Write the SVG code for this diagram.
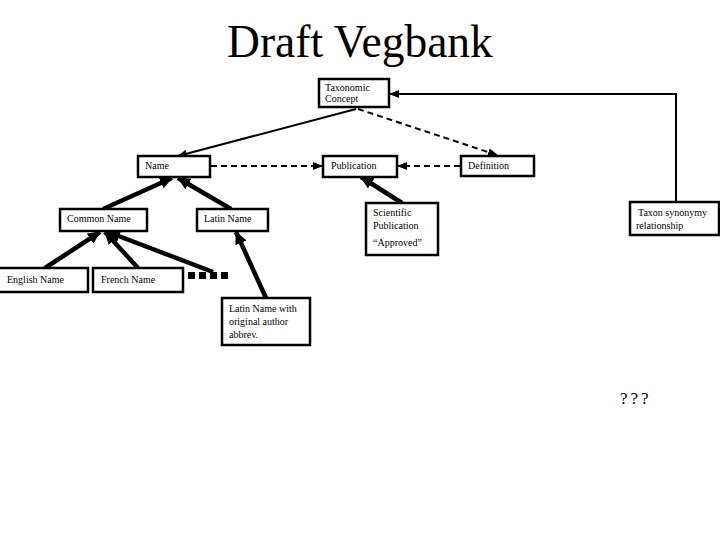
<svg xmlns="http://www.w3.org/2000/svg" width="720" height="540" viewBox="0 0 720 540">
<defs>
<style>
.box{fill:#fff;stroke:#000;stroke-width:2.5}
.t{font-family:"Liberation Serif","Times New Roman",serif;font-size:10px;fill:#000}
.thin{stroke:#000;stroke-width:2;fill:none}
.dash{stroke:#000;stroke-width:2;fill:none;stroke-dasharray:6,4}
.thick{stroke:#000;stroke-width:4.5;fill:none}
</style>
<marker id="ah" markerUnits="userSpaceOnUse" markerWidth="10" markerHeight="8" refX="9" refY="4" orient="auto">
<path d="M0,0 L10,4 L0,8 Z" fill="#000"/>
</marker>
<marker id="ahb" markerUnits="userSpaceOnUse" markerWidth="13" markerHeight="12" refX="12" refY="6" orient="auto">
<path d="M0,0 L13,6 L0,12 Z" fill="#000"/>
</marker>
</defs>
<rect width="720" height="540" fill="#fff"/>
<text x="360" y="57" text-anchor="middle" font-family="Liberation Serif,'Times New Roman',serif" font-size="45.5">Draft Vegbank</text>

<g id="connectors">
<line class="thin" x1="356" y1="109" x2="178" y2="156" marker-end="url(#ah)"/>
<line class="dash" x1="358" y1="109" x2="497" y2="155" marker-end="url(#ah)"/>
<line class="dash" x1="211" y1="166" x2="322" y2="166" marker-end="url(#ah)"/>
<line class="dash" x1="460" y1="166" x2="398" y2="166" marker-end="url(#ah)"/>
<polyline class="thin" points="676,202 676,94 390,94" marker-end="url(#ah)"/>
<line class="thick" x1="103" y1="209" x2="172" y2="178" marker-end="url(#ahb)"/>
<line class="thick" x1="231" y1="209" x2="178" y2="178" marker-end="url(#ahb)"/>
<line class="thick" x1="45" y1="268" x2="100" y2="232" marker-end="url(#ahb)"/>
<line class="thick" x1="138" y1="268" x2="105" y2="232" marker-end="url(#ahb)"/>
<line class="thick" x1="213" y1="272" x2="108" y2="232" marker-end="url(#ahb)"/>
<line class="thick" x1="266" y1="298" x2="236" y2="232" marker-end="url(#ahb)"/>
<line class="thick" x1="402" y1="203" x2="361" y2="177" marker-end="url(#ahb)"/>
</g>

<g id="taxonomic-concept">
<rect class="box" x="319" y="79" width="70" height="28"/>
<text class="t" x="325" y="91">Taxonomic</text>
<text class="t" x="325" y="102">Concept</text>
</g>
<g id="name">
<rect class="box" x="138" y="156" width="72" height="21"/>
<text class="t" x="145" y="169">Name</text>
</g>
<g id="publication">
<rect class="box" x="323" y="156" width="74" height="21"/>
<text class="t" x="331" y="169">Publication</text>
</g>
<g id="definition">
<rect class="box" x="461" y="156" width="73" height="20"/>
<text class="t" x="468" y="169">Definition</text>
</g>
<g id="common-name">
<rect class="box" x="60" y="209" width="87" height="22"/>
<text class="t" x="67" y="222">Common Name</text>
</g>
<g id="latin-name">
<rect class="box" x="197" y="209" width="71" height="22"/>
<text class="t" x="204" y="222">Latin Name</text>
</g>
<g id="scientific-publication">
<rect class="box" x="366" y="203" width="72" height="52"/>
<text class="t" x="373" y="216">Scientific</text>
<text class="t" x="373" y="229">Publication</text>
<text class="t" x="373" y="246">“Approved”</text>
</g>
<g id="taxon-synonymy">
<rect class="box" x="630" y="202" width="89" height="33"/>
<text class="t" x="638" y="216">Taxon synonymy</text>
<text class="t" x="636" y="229">relationship</text>
</g>
<g id="english-name">
<rect class="box" x="-2" y="268" width="90" height="24"/>
<text class="t" x="7" y="283">English Name</text>
</g>
<g id="french-name">
<rect class="box" x="93" y="268" width="90" height="24"/>
<text class="t" x="101" y="283">French Name</text>
</g>
<g id="more">
<rect x="188" y="272" width="7" height="7" fill="#000"/>
<rect x="199" y="272" width="7" height="7" fill="#000"/>
<rect x="210" y="272" width="7" height="7" fill="#000"/>
<rect x="221" y="272" width="7" height="7" fill="#000"/>
</g>
<g id="latin-name-author">
<rect class="box" x="222" y="298" width="88" height="47"/>
<text class="t" x="229" y="312">Latin Name with</text>
<text class="t" x="229" y="325">original author</text>
<text class="t" x="229" y="338">abbrev.</text>
</g>
<text x="620" y="404" font-family="Liberation Serif,'Times New Roman',serif" font-size="17" letter-spacing="3">???</text>
</svg>
